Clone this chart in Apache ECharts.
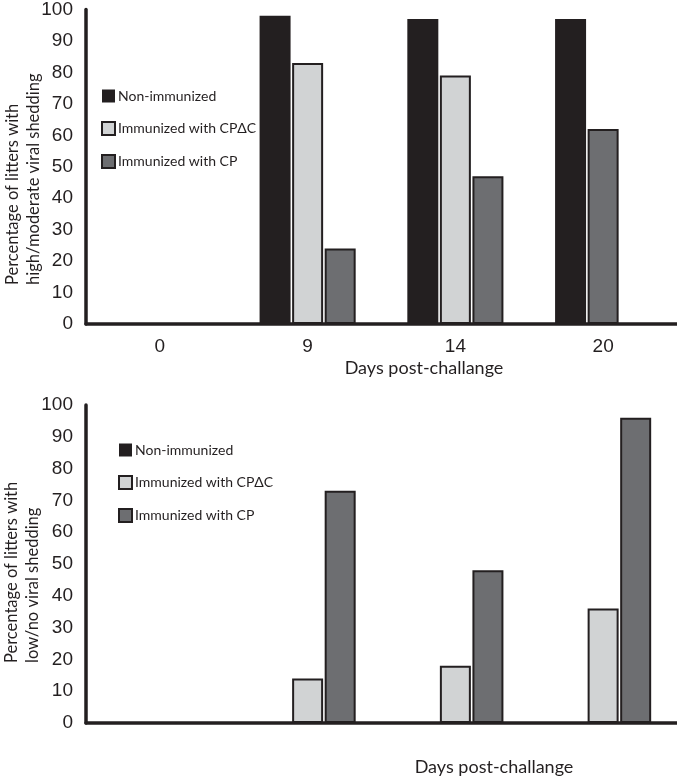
<!DOCTYPE html>
<html>
<head>
<meta charset="utf-8">
<script src="https://cdn.jsdelivr.net/npm/echarts@6/dist/echarts.min.js"></script>
<style>
html,body{margin:0;padding:0;background:#fff;}
#c{width:677px;height:777px;}
</style>
</head>
<body>
<div id="c"></div>
<script>
// ---- data ----
const days = ['0', '9', '14', '20'];
const seriesNames = ['Non-immunized', 'Immunized with CP\u0394C', 'Immunized with CP'];
// Top panel: % litters with high/moderate viral shedding
const topNon  = [0, 98, 97, 97];
const topCPdC = [0, 83, 79, null];
const topCP   = [0, 24, 47, 62];
// Bottom panel: % litters with low/no viral shedding
const botNon  = [0, 0, 0, 0];
const botCPdC = [0, 14, 18, 36];
const botCP   = [0, 73, 48, 96];
const yTicks = [0, 10, 20, 30, 40, 50, 60, 70, 80, 90, 100];

const INK = '#231f20';
const COLORS = ['#231f20', '#d1d3d4', '#6d6e71'];
const FONT = 'Lato';
const NUMFONT = '"Liberation Sans Narrow", "Liberation Sans", sans-serif';

function makeSeries(gi, non, cpdc, cp) {
  const base = {type: 'bar', xAxisIndex: gi, yAxisIndex: gi, barWidth: 31, barGap: '5%', animation: false};
  const border = {borderColor: INK, borderWidth: 2};
  // when CPΔC has no bar, the CP bar takes its slot (as in the original figure)
  const cpShift = cp.map((v, i) => cpdc[i] == null ? v : null);
  const cpMain = cp.map((v, i) => cpdc[i] == null ? null : v);
  return [
    Object.assign({}, base, {name: seriesNames[0], data: non, itemStyle: {color: COLORS[0], borderColor: COLORS[0], borderWidth: 0}}),
    Object.assign({}, base, {name: seriesNames[1], data: cpdc, stack: 'slot2_' + gi, itemStyle: Object.assign({color: COLORS[1]}, border)}),
    Object.assign({}, base, {name: seriesNames[2], data: cpMain, itemStyle: Object.assign({color: COLORS[2]}, border)}),
    Object.assign({}, base, {name: seriesNames[2], data: cpShift, stack: 'slot2_' + gi, itemStyle: Object.assign({color: COLORS[2]}, border)})
  ];
}

function yAxis(gi) {
  return {
    type: 'value', gridIndex: gi, min: yTicks[0], max: yTicks[yTicks.length - 1], interval: 10,
    axisLine: {show: true, lineStyle: {color: INK, width: 3.5}},
    axisTick: {show: false},
    splitLine: {show: false},
    axisLabel: {color: INK, fontFamily: NUMFONT, fontSize: 19, margin: 13}
  };
}

function xAxis(gi, showLabels) {
  return {
    type: 'category', gridIndex: gi, data: days,
    axisLine: {show: true, lineStyle: {color: INK, width: 3.5}},
    axisTick: {show: false},
    axisLabel: {show: showLabels, color: INK, fontFamily: NUMFONT, fontSize: 19, margin: 13}
  };
}

function legend(left, top) {
  return {
    data: seriesNames, orient: 'vertical', left: left, top: top,
    itemWidth: 13, itemHeight: 13, itemGap: 18,
    icon: 'rect',
    textStyle: {color: INK, fontFamily: FONT, fontSize: 14, padding: [0, 0, 0, -2]},
    selectedMode: false
  };
}

function vText(x, y, text) {
  return {type: 'text', x: x, y: y, rotation: Math.PI / 2, silent: true,
    style: {text: text, fill: INK, font: '16.5px ' + FONT, align: 'left', verticalAlign: 'middle'}};
}
function hText(x, y, text) {
  return {type: 'text', x: x, y: y, silent: true,
    style: {text: text, fill: INK, font: '18px ' + FONT, align: 'center', verticalAlign: 'middle'}};
}

const chart = echarts.init(document.getElementById('c'), null, {renderer: 'canvas'});
chart.setOption({
  backgroundColor: '#fff',
  animation: false,
  grid: [
    {left: 86, top: 7, width: 596, height: 317},
    {left: 86, top: 405, width: 596, height: 318}
  ],
  xAxis: [xAxis(0, true), xAxis(1, false)],
  yAxis: [yAxis(0), yAxis(1)],
  legend: [legend(96, 84), legend(113, 438)],
  series: makeSeries(0, topNon, topCPdC, topCP).concat(makeSeries(1, botNon, botCPdC, botCP)),
  graphic: [
    vText(13, 285, 'Percentage of litters with'),
    vText(34, 285, 'high/moderate viral shedding'),
    vText(12, 663, 'Percentage of litters with'),
    vText(33, 663, 'low/no viral shedding'),
    hText(424, 368, 'Days post-challange'),
    hText(494, 767, 'Days post-challange')
  ]
});
</script>
</body>
</html>
